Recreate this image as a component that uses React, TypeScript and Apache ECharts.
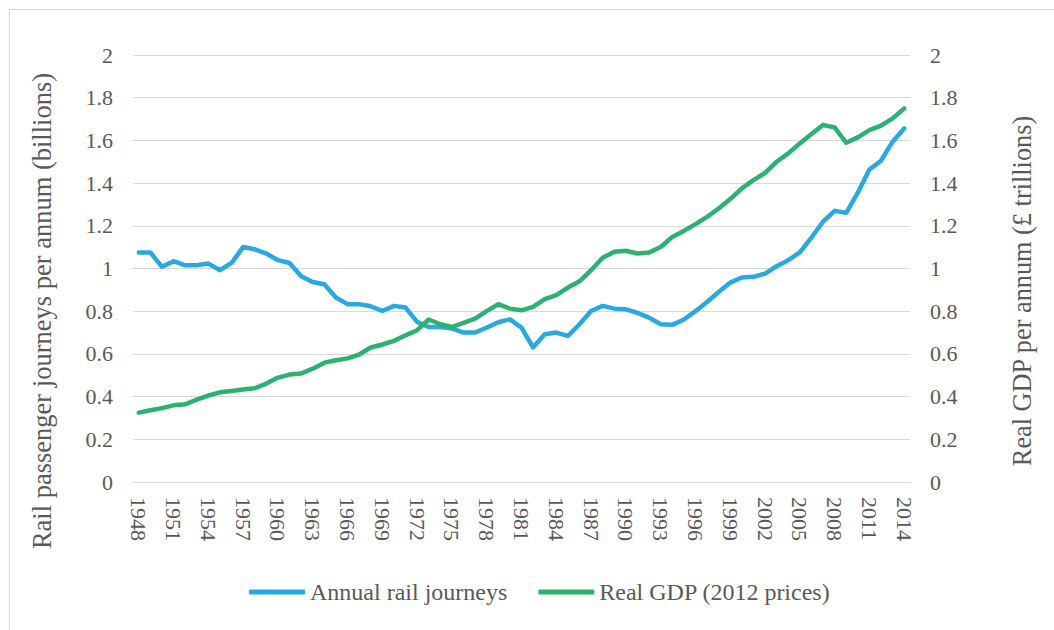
import React, { useEffect, useRef } from "react";
import * as echarts from "echarts";

const years: string[] = [];
for (let y = 1948; y <= 2014; y++) years.push(String(y));

const railJourneys = [
  1.075, 1.075, 1.008, 1.034, 1.015, 1.015, 1.023, 0.992, 1.026, 1.101,
  1.09, 1.07, 1.039, 1.026, 0.964, 0.937, 0.926, 0.864, 0.833, 0.833,
  0.823, 0.801, 0.825, 0.817, 0.75, 0.726, 0.726, 0.719, 0.7, 0.7,
  0.723, 0.748, 0.762, 0.723, 0.63, 0.692, 0.7, 0.684, 0.739, 0.801,
  0.825, 0.812, 0.809, 0.792, 0.77, 0.739, 0.736, 0.761, 0.8, 0.843,
  0.89, 0.934, 0.958, 0.961, 0.976, 1.011, 1.039, 1.075, 1.145, 1.219,
  1.27, 1.261, 1.355, 1.464, 1.505, 1.594, 1.656,
];

const realGdp = [
  0.325, 0.336, 0.346, 0.359, 0.364, 0.386, 0.405, 0.42, 0.426, 0.433,
  0.439, 0.461, 0.489, 0.503, 0.508, 0.531, 0.559, 0.57, 0.579, 0.597,
  0.63, 0.644, 0.661, 0.687, 0.711, 0.761, 0.739, 0.726, 0.745, 0.765,
  0.8, 0.833, 0.812, 0.804, 0.82, 0.856, 0.875, 0.911, 0.94, 0.992,
  1.05, 1.078, 1.083, 1.07, 1.075, 1.101, 1.148, 1.176, 1.208, 1.242,
  1.281, 1.325, 1.375, 1.414, 1.448, 1.5, 1.539, 1.586, 1.63, 1.672,
  1.661, 1.589, 1.614, 1.648, 1.669, 1.703, 1.75,
];

const seriesNames = ["Annual rail journeys", "Real GDP (2012 prices)"];
const leftTitle = "Rail passenger journeys per annum (billions)";
const rightTitle = "Real GDP per annum (£ trillions)";

const FONT = "serif";
const TEXT = "#595959";
const GRID = "#d9d9d9";
const BLUE = "#29a9e0";
const GREEN = "#2bb272";

export default function App() {
  const ref = useRef<HTMLDivElement>(null);

  useEffect(() => {
    if (!ref.current) return;
    const chart = echarts.init(ref.current, undefined, { renderer: "svg" });
    const fmt = (v: number) => String(+v.toFixed(1));
    const yAxisBase = {
      type: "value" as const,
      min: 0,
      max: 2,
      interval: 0.2,
      axisLine: { show: false },
      axisTick: { show: false },
      axisLabel: { fontSize: 22, color: TEXT, fontFamily: FONT, margin: 20, formatter: fmt },
    };
    chart.setOption({
      animation: false,
      backgroundColor: "#ffffff",
      textStyle: { fontFamily: FONT },
      grid: { left: 133, right: 144, top: 55, bottom: 148, containLabel: false },
      legend: {
        data: seriesNames,
        left: 249,
        top: 580,
        padding: 0,
        itemWidth: 56,
        itemHeight: 5,
        itemGap: 31,
        icon: "roundRect",
        textStyle: { fontSize: 24, color: TEXT, fontFamily: FONT },
      },
      xAxis: {
        type: "category",
        data: years,
        boundaryGap: true,
        axisLine: { show: true, lineStyle: { color: GRID, width: 1 } },
        axisTick: { show: false },
        axisLabel: {
          interval: 2,
          rotate: -90,
          fontSize: 22,
          color: TEXT,
          fontFamily: FONT,
          margin: 15,
        },
        splitLine: { show: false },
      },
      yAxis: [
        {
          ...yAxisBase,
          position: "left",
          splitLine: { show: true, lineStyle: { color: GRID, width: 1 } },
        },
        {
          ...yAxisBase,
          position: "right",
          splitLine: { show: false },
        },
      ],
      series: [
        {
          name: seriesNames[0],
          type: "line",
          yAxisIndex: 0,
          data: railJourneys,
          showSymbol: false,
          symbol: "none",
          itemStyle: { color: BLUE },
          lineStyle: { color: BLUE, width: 4.5, cap: "round", join: "round" },
        },
        {
          name: seriesNames[1],
          type: "line",
          yAxisIndex: 1,
          data: realGdp,
          showSymbol: false,
          symbol: "none",
          itemStyle: { color: GREEN },
          lineStyle: { color: GREEN, width: 4.5, cap: "round", join: "round" },
        },
      ],
      graphic: [
        {
          type: "rect",
          silent: true,
          shape: { x: 9.5, y: 9.5, width: 1100, height: 700 },
          style: { fill: "none", stroke: GRID, lineWidth: 1 },
        },
        {
          type: "text",
          x: 42,
          y: 311,
          rotation: Math.PI / 2,
          style: {
            text: leftTitle,
            fontSize: 26.5,
            fontFamily: FONT,
            fill: TEXT,
            align: "center",
            verticalAlign: "middle",
          },
        },
        {
          type: "text",
          x: 1022,
          y: 291,
          rotation: Math.PI / 2,
          style: {
            text: rightTitle,
            fontSize: 26.3,
            fontFamily: FONT,
            fill: TEXT,
            align: "center",
            verticalAlign: "middle",
          },
        },
      ],
    });
    return () => chart.dispose();
  }, []);

  return (
    <div
      ref={ref}
      style={{ position: "fixed", left: 0, top: 0, width: 1054, height: 630 }}
    />
  );
}
